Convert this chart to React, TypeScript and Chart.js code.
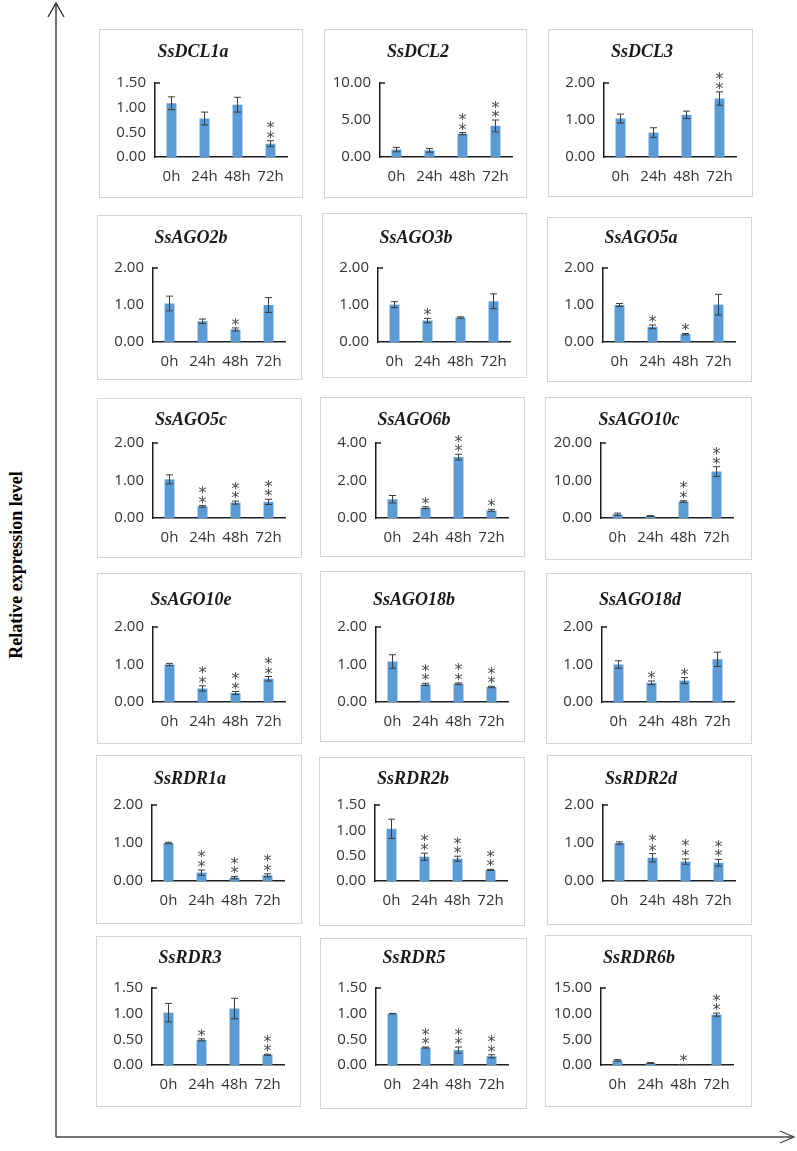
import React, { useEffect, useRef } from "react";
import { Chart, registerables } from "chart.js";

Chart.register(...registerables);

// ---------------- data ----------------
const timePoints = ["0h", "24h", "48h", "72h"];

const geneNames = [
  "SsDCL1a", "SsDCL2", "SsDCL3",
  "SsAGO2b", "SsAGO3b", "SsAGO5a",
  "SsAGO5c", "SsAGO6b", "SsAGO10c",
  "SsAGO10e", "SsAGO18b", "SsAGO18d",
  "SsRDR1a", "SsRDR2b", "SsRDR2d",
  "SsRDR3", "SsRDR5", "SsRDR6b",
];

const dcl1aMean = [1.09, 0.78, 1.06, 0.27];
const dcl1aErr = [0.13, 0.13, 0.15, 0.06];
const dcl1aSig = ["", "", "", "**"];

const dcl2Mean = [1.0, 0.9, 3.15, 4.2];
const dcl2Err = [0.3, 0.25, 0.15, 0.8];
const dcl2Sig = ["", "", "**", "**"];

const dcl3Mean = [1.04, 0.66, 1.14, 1.58];
const dcl3Err = [0.12, 0.13, 0.1, 0.18];
const dcl3Sig = ["", "", "", "**"];

const ago2bMean = [1.04, 0.56, 0.34, 1.0];
const ago2bErr = [0.2, 0.06, 0.04, 0.2];
const ago2bSig = ["", "", "*", ""];

const ago3bMean = [1.01, 0.58, 0.66, 1.1];
const ago3bErr = [0.08, 0.06, 0.02, 0.2];
const ago3bSig = ["", "*", "", ""];

const ago5aMean = [1.0, 0.41, 0.21, 1.01];
const ago5aErr = [0.04, 0.05, 0.02, 0.28];
const ago5aSig = ["", "*", "*", ""];

const ago5cMean = [1.03, 0.31, 0.41, 0.43];
const ago5cErr = [0.12, 0.02, 0.04, 0.07];
const ago5cSig = ["", "**", "**", "**"];

const ago6bMean = [1.0, 0.55, 3.25, 0.4];
const ago6bErr = [0.2, 0.05, 0.15, 0.06];
const ago6bSig = ["", "*", "**", "*"];

const ago10cMean = [1.0, 0.55, 4.4, 12.4];
const ago10cErr = [0.3, 0.1, 0.2, 1.3];
const ago10cSig = ["", "", "**", "**"];

const ago10eMean = [1.0, 0.36, 0.24, 0.62];
const ago10eErr = [0.03, 0.07, 0.04, 0.06];
const ago10eSig = ["", "**", "**", "**"];

const ago18bMean = [1.08, 0.47, 0.49, 0.4];
const ago18bErr = [0.18, 0.03, 0.02, 0.02];
const ago18bSig = ["", "**", "**", "**"];

const ago18dMean = [1.0, 0.51, 0.57, 1.14];
const ago18dErr = [0.1, 0.05, 0.08, 0.19];
const ago18dSig = ["", "*", "*", ""];

const rdr1aMean = [1.0, 0.22, 0.09, 0.15];
const rdr1aErr = [0.02, 0.07, 0.03, 0.04];
const rdr1aSig = ["", "**", "**", "**"];

const rdr2bMean = [1.03, 0.48, 0.44, 0.22];
const rdr2bErr = [0.19, 0.07, 0.05, 0.01];
const rdr2bSig = ["", "**", "**", "**"];

const rdr2dMean = [1.0, 0.61, 0.51, 0.48];
const rdr2dErr = [0.03, 0.11, 0.07, 0.09];
const rdr2dSig = ["", "**", "**", "**"];

const rdr3Mean = [1.02, 0.49, 1.1, 0.2];
const rdr3Err = [0.18, 0.02, 0.2, 0.01];
const rdr3Sig = ["", "*", "", "**"];

const rdr5Mean = [1.0, 0.34, 0.29, 0.17];
const rdr5Err = [0.005, 0.01, 0.06, 0.03];
const rdr5Sig = ["", "**", "**", "**"];

const rdr6bMean = [0.9, 0.4, 0.1, 9.8];
const rdr6bErr = [0.15, 0.1, 0.02, 0.3];
const rdr6bSig = ["", "", "*", "**"];

const axisMax = [1.5, 10, 2, 2, 2, 2, 2, 4, 20, 2, 2, 2, 2, 1.5, 2, 1.5, 1.5, 15];
const axisStep = [0.5, 5, 1, 1, 1, 1, 1, 2, 10, 1, 1, 1, 1, 0.5, 1, 0.5, 0.5, 5];

const yAxisTitle = "Relative expression level";

const allMeans = [
  dcl1aMean, dcl2Mean, dcl3Mean, ago2bMean, ago3bMean, ago5aMean,
  ago5cMean, ago6bMean, ago10cMean, ago10eMean, ago18bMean, ago18dMean,
  rdr1aMean, rdr2bMean, rdr2dMean, rdr3Mean, rdr5Mean, rdr6bMean,
];
const allErrs = [
  dcl1aErr, dcl2Err, dcl3Err, ago2bErr, ago3bErr, ago5aErr,
  ago5cErr, ago6bErr, ago10cErr, ago10eErr, ago18bErr, ago18dErr,
  rdr1aErr, rdr2bErr, rdr2dErr, rdr3Err, rdr5Err, rdr6bErr,
];
const allSigs = [
  dcl1aSig, dcl2Sig, dcl3Sig, ago2bSig, ago3bSig, ago5aSig,
  ago5cSig, ago6bSig, ago10cSig, ago10eSig, ago18bSig, ago18dSig,
  rdr1aSig, rdr2bSig, rdr2dSig, rdr3Sig, rdr5Sig, rdr6bSig,
];

// ---------------- layout (page pixels) ----------------
// box: [left, top, width, height]
const boxes = [
  [99, 29, 204, 169], [324, 29, 203, 169], [548, 29, 205, 168],
  [97, 215, 205, 165], [322, 213, 205, 165], [547, 217, 205, 165],
  [97, 398, 205, 160], [320, 397, 205, 160], [545, 397, 207, 163],
  [97, 573, 205, 171], [320, 571, 205, 171], [546, 573, 206, 171],
  [96, 755, 206, 169], [319, 757, 206, 169], [547, 755, 205, 170],
  [96, 936, 205, 171], [320, 938, 207, 171], [545, 935, 207, 172],
];
// per row absolute y: [title center, plot top, plot bottom]
const rowY = [
  [52, 83, 157],
  [238, 268, 342],
  [420, 443, 518],
  [600, 627, 702],
  [779, 805, 881],
  [958, 988, 1065],
];
const PLOT_LEFT = 56;
const PLOT_RIGHT = 188;
const X_AXIS_H = 30;

const tickFont = { family: "'Open Sans', sans-serif", size: 15 };
const titleFont = { family: "'Liberation Serif', 'Times New Roman', serif", size: 18, style: "italic" as const, weight: "bold" as const };

function Panel({ idx }: { idx: number }) {
  const ref = useRef<HTMLCanvasElement>(null);
  const [bx, by, bw, bh] = boxes[idx];
  const [ty, pt, pb] = rowY[Math.floor(idx / 3)];
  const titleC = ty - by;
  const plotTop = pt - by;
  const plotBottom = pb - by;

  useEffect(() => {
    const err = allErrs[idx];
    const sig = allSigs[idx];
    const mean = allMeans[idx];
    const deco = {
      id: "errAndStars",
      afterDatasetsDraw(chart: any) {
        const ctx = chart.ctx;
        const ys = chart.scales.y;
        const meta = chart.getDatasetMeta(0);
        ctx.save();
        meta.data.forEach((bar: any, i: number) => {
          const x = bar.x;
          const top = ys.getPixelForValue(mean[i] + err[i]);
          const bot = ys.getPixelForValue(Math.max(0, mean[i] - err[i]));
          ctx.strokeStyle = "#3c3c3c";
          ctx.lineWidth = 1;
          ctx.beginPath();
          ctx.moveTo(x, top);
          ctx.lineTo(x, bot);
          ctx.moveTo(x - 3.5, top);
          ctx.lineTo(x + 3.5, top);
          ctx.moveTo(x - 3.5, bot);
          ctx.lineTo(x + 3.5, bot);
          ctx.stroke();
          const n = sig[i].length;
          ctx.fillStyle = "#4a4a4a";
          ctx.font = "16px 'DejaVu Sans', sans-serif";
          ctx.textAlign = "center";
          ctx.textBaseline = "alphabetic";
          for (let k = 0; k < n; k++) {
            const cy = top - 7 - k * 9.5;
            ctx.fillText("*", x, cy + 9);
          }
        });
        // small tick at top of value axis pointing into plot
        const ca = chart.chartArea;
        ctx.strokeStyle = "#1e1e1e";
        ctx.lineWidth = 1.5;
        ctx.beginPath();
        ctx.moveTo(ca.left, ca.top);
        ctx.lineTo(ca.left + 5, ca.top);
        ctx.stroke();
        ctx.restore();
      },
    };

    const chart = new Chart(ref.current as HTMLCanvasElement, {
      type: "bar",
      data: {
        labels: timePoints,
        datasets: [
          {
            data: mean,
            backgroundColor: "#5B9BD5",
            borderWidth: 0,
            barPercentage: 0.3,
            categoryPercentage: 1,
          },
        ],
      },
      options: {
        responsive: false,
        animation: false,
        events: [],
        layout: {
          padding: { left: 0, top: 0, right: bw - PLOT_RIGHT, bottom: bh - plotBottom - X_AXIS_H },
        },
        plugins: {
          legend: { display: false },
          tooltip: { enabled: false },
          title: {
            display: true,
            text: geneNames[idx],
            color: "#1a1a1a",
            font: titleFont,
            padding: { top: titleC - 10.8, bottom: plotTop - titleC - 10.8 },
          },
        },
        scales: {
          x: {
            grid: { display: false, drawTicks: false },
            border: { display: true, color: "#1e1e1e", width: 1.5 },
            ticks: { padding: 11, color: "#333333", font: tickFont, maxRotation: 0, autoSkip: false },
            afterFit: (s: any) => {
              s.height = X_AXIS_H;
            },
          },
          y: {
            min: 0,
            max: axisMax[idx],
            grid: { display: false, drawTicks: false },
            border: { display: true, color: "#1e1e1e", width: 1.5 },
            ticks: {
              stepSize: axisStep[idx],
              padding: 9,
              color: "#333333",
              font: tickFont,
              callback: (v: any) => Number(v).toFixed(2),
            },
            afterFit: (s: any) => {
              s.width = PLOT_LEFT;
            },
          },
        },
      },
      plugins: [deco],
    } as any);
    return () => chart.destroy();
  }, [idx]);

  return (
    <>
      <div
        style={{
          position: "absolute",
          left: bx,
          top: by,
          width: bw,
          height: bh,
          boxSizing: "border-box",
          border: "1px solid #d4d4d4",
        }}
      />
      <canvas
        ref={ref}
        width={bw}
        height={bh}
        style={{ position: "absolute", left: bx, top: by, width: bw, height: bh }}
      />
    </>
  );
}

export default function App() {
  return (
    <div
      style={{
        position: "absolute",
        left: 0,
        top: 0,
        width: 797,
        height: 1151,
        background: "#ffffff",
        overflow: "hidden",
      }}
    >
      <svg width={797} height={1151} style={{ position: "absolute", left: 0, top: 0 }}>
        <line x1={56} y1={3} x2={56} y2={1137} stroke="#222" strokeWidth={1.3} />
        <polyline points="48,17 56,3 64,17" fill="none" stroke="#222" strokeWidth={1.3} />
        <line x1={56} y1={1137} x2={793} y2={1137} stroke="#444" strokeWidth={1.6} />
        <polyline points="780,1131 794,1137 780,1143" fill="none" stroke="#444" strokeWidth={1.3} />
      </svg>
      <div
        style={{
          position: "absolute",
          left: 16 - 150,
          top: 565 - 12,
          width: 300,
          height: 24,
          lineHeight: "24px",
          textAlign: "center",
          transform: "rotate(-90deg)",
          fontFamily: "'Liberation Serif', 'Times New Roman', serif",
          fontWeight: "bold",
          fontSize: 18,
          color: "#000",
          whiteSpace: "nowrap",
        }}
      >
        {yAxisTitle}
      </div>
      {geneNames.map((_, i) => (
        <Panel key={i} idx={i} />
      ))}
    </div>
  );
}
